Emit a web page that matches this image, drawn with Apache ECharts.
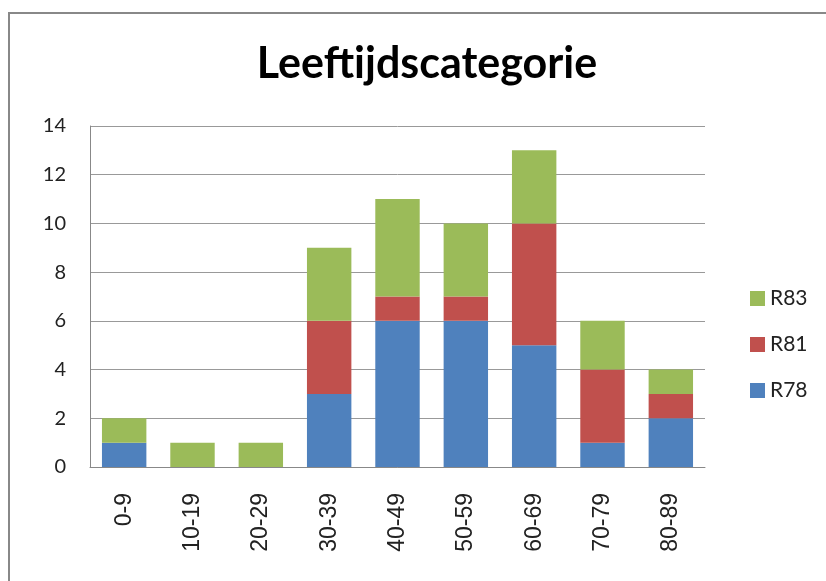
<!DOCTYPE html>
<html><head><meta charset="utf-8">
<script src="https://cdn.jsdelivr.net/npm/echarts@6/dist/echarts.min.js"></script>
<style>html,body{margin:0;padding:0;background:#fff}#c{width:826px;height:581px}</style>
</head><body><div id="c"></div>
<script>
const categories = ['0-9','10-19','20-29','30-39','40-49','50-59','60-69','70-79','80-89'];
const r78 = [1,0,0,3,6,6,5,1,2];
const r81 = [0,0,0,3,1,1,5,3,1];
const r83 = [1,1,1,3,4,3,3,2,1];
const yTicks = {min:0, max:14, interval:2};

const chart = echarts.init(document.getElementById('c'));
const calibri = 'Lato, "Open Sans", sans-serif';
const mk = (name, data, color) => ({
  name, type:'bar', stack:'s', data, barCategoryGap:'35%',
  itemStyle:{color}, emphasis:{disabled:true}
});
chart.setOption({
  animation:false,
  graphic:[{type:'rect', shape:{x:9, y:13, width:900, height:700},
    style:{fill:'none', stroke:'#888', lineWidth:2}, silent:true}],
  title:{text:'Leeftijdscategorie', left:422, top:38, textAlign:'center',
    textStyle:{fontFamily:calibri, fontWeight:'bold', fontSize:43, color:'#000'}},
  legend:{orient:'vertical', left:745, top:283, itemGap:25, itemWidth:15, itemHeight:15,
    data:['R83','R81','R78'], icon:'rect',
    textStyle:{fontFamily:calibri, fontSize:21, color:'#222'}},
  grid:{left:90, right:121, top:126, bottom:114, containLabel:false},
  xAxis:{type:'category', data:categories,
    axisLine:{lineStyle:{color:'#888', width:1}}, axisTick:{show:false},
    axisLabel:{rotate:90, margin:26, fontFamily:'"Liberation Sans", Arial, sans-serif', fontSize:23, color:'#222'}},
  yAxis:{type:'value', min:yTicks.min, max:yTicks.max, interval:yTicks.interval,
    axisLine:{show:true, lineStyle:{color:'#888'}}, axisTick:{show:false},
    splitLine:{lineStyle:{color:'#999'}},
    axisLabel:{margin:24, fontFamily:calibri, fontSize:20, color:'#222'}},
  series:[mk('R78', r78, '#4F81BD'), mk('R81', r81, '#C0504D'), mk('R83', r83, '#9BBB59')]
});
</script></body></html>
